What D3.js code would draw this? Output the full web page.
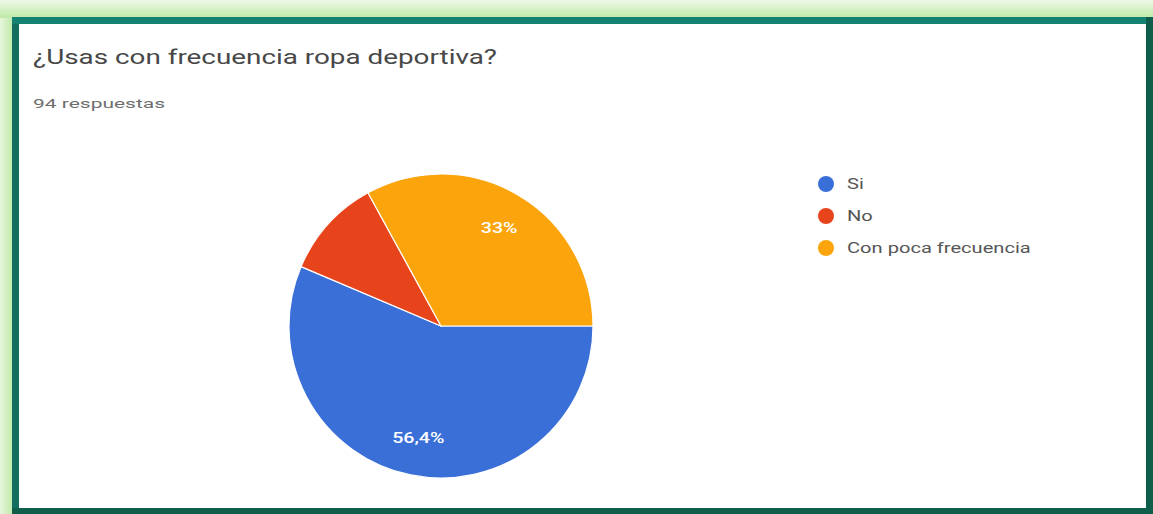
<!DOCTYPE html>
<html lang="es">
<head>
<meta charset="utf-8">
<script src="https://cdn.jsdelivr.net/npm/d3@7"></script>
<style>
  html, body { margin: 0; padding: 0; background: #ffffff; }
  svg { display: block; }
</style>
</head>
<body>
<svg id="chart" width="1153" height="514"></svg>
<script>
// Survey answers and response counts
const title = "¿Usas con frecuencia ropa deportiva?";
const subtitle = "94 respuestas";
const categories = ["Si", "No", "Con poca frecuencia"];
const counts = [53, 10, 31];
const colors = ["#3a6fd8", "#e8441c", "#fca40c"];

const W = 1153, H = 514;
const svg = d3.select("#chart");

// Widen a text element's glyphs by the given horizontal factor
function stretch(sel, k) {
  sel.each(function () {
    const len = this.getComputedTextLength();
    d3.select(this).attr("textLength", len * k).attr("lengthAdjust", "spacingAndGlyphs");
  });
}
// Widen a single text element so it spans the given width
function stretchTo(sel, width) {
  sel.attr("textLength", width).attr("lengthAdjust", "spacingAndGlyphs");
}

// Frame: light green outer band, teal inner border, white card
const defs = svg.append("defs");
const gTop = defs.append("linearGradient").attr("id", "bandTop")
  .attr("x1", 0).attr("y1", 0).attr("x2", 0).attr("y2", 1);
gTop.append("stop").attr("offset", "0%").attr("stop-color", "#eef9e8");
gTop.append("stop").attr("offset", "100%").attr("stop-color", "#bfe9a8");
const gLeft = defs.append("linearGradient").attr("id", "bandLeft")
  .attr("x1", 0).attr("y1", 0).attr("x2", 1).attr("y2", 0);
gLeft.append("stop").attr("offset", "0%").attr("stop-color", "#e6f6dc");
gLeft.append("stop").attr("offset", "100%").attr("stop-color", "#c3eaac");

svg.append("rect").attr("x", 0).attr("y", 0).attr("width", W).attr("height", H).attr("fill", "#d6f2c6");
svg.append("rect").attr("x", 0).attr("y", 0).attr("width", W).attr("height", 18).attr("fill", "url(#bandTop)");
svg.append("rect").attr("x", 0).attr("y", 18).attr("width", 12).attr("height", H - 18).attr("fill", "url(#bandLeft)");
// teal border
svg.append("rect").attr("x", 12).attr("y", 17).attr("width", W - 12).attr("height", H - 17).attr("fill", "#168274");
svg.append("rect").attr("x", 12).attr("y", 24).attr("width", 7).attr("height", H - 24).attr("fill", "#146e60");
svg.append("rect").attr("x", 1146).attr("y", 17).attr("width", 7).attr("height", H - 17).attr("fill", "#0f5e4c");
svg.append("rect").attr("x", 12).attr("y", 508).attr("width", W - 12).attr("height", 6).attr("fill", "#0f5e4c");
// white card
svg.append("rect").attr("x", 19).attr("y", 24).attr("width", 1127).attr("height", 484).attr("fill", "#ffffff");

// Title and response count
const t = svg.append("text")
  .attr("x", 33).attr("y", 64)
  .attr("font-family", "Roboto, sans-serif")
  .attr("font-size", 20)
  .attr("fill", "#474747")
  .text(title);
stretchTo(t, 464);

const s = svg.append("text")
  .attr("x", 33).attr("y", 108)
  .attr("font-family", "Roboto, sans-serif")
  .attr("font-size", 13)
  .attr("fill", "#6e6e6e")
  .text(subtitle);
stretchTo(s, 132);

// Pie
const cx = 441, cy = 326, r = 152;
const total = d3.sum(counts);
const data = categories.map((c, i) => ({ name: c, value: counts[i], color: colors[i] }));
const pie = d3.pie().value(d => d.value).sort(null)
  .startAngle(Math.PI / 2).endAngle(Math.PI / 2 + 2 * Math.PI);
const arcs = pie(data);
const arc = d3.arc().innerRadius(0).outerRadius(r);
const labelArc = d3.arc().innerRadius(r * 0.75).outerRadius(r * 0.75);

const g = svg.append("g").attr("transform", `translate(${cx},${cy})`);
g.selectAll("path.slice").data(arcs).join("path")
  .attr("class", "slice")
  .attr("d", arc)
  .attr("fill", d => d.data.color)
  .attr("stroke", "#ffffff")
  .attr("stroke-width", 1.2);

const fmtPct = v => {
  const p = Math.round(v * 1000) / 10;
  return (Number.isInteger(p) ? String(p) : p.toFixed(1).replace(".", ",")) + "%";
};

const pct = g.selectAll("text.pct").data(arcs.filter(d => d.data.value / total >= 0.15)).join("text")
  .attr("class", "pct")
  .attr("transform", d => `translate(${labelArc.centroid(d)})`)
  .attr("text-anchor", "middle")
  .attr("dy", "0.35em")
  .attr("font-family", "Roboto, sans-serif")
  .attr("font-size", 14)
  .attr("font-weight", 500)
  .attr("fill", "#ffffff")
  .text(d => fmtPct(d.data.value / total));
stretch(pct, 1.4);

// Legend
const lg = svg.append("g").attr("transform", "translate(826,184)");
const items = lg.selectAll("g").data(data).join("g")
  .attr("transform", (d, i) => `translate(0,${i * 32})`);
items.append("circle").attr("r", 8).attr("fill", d => d.color);
const lt = items.append("text")
  .attr("x", 21).attr("dy", "0.35em")
  .attr("font-family", "Roboto, sans-serif")
  .attr("font-size", 15)
  .attr("fill", "#555555")
  .text(d => d.name);
stretch(lt, 1.34);
</script>
</body>
</html>
